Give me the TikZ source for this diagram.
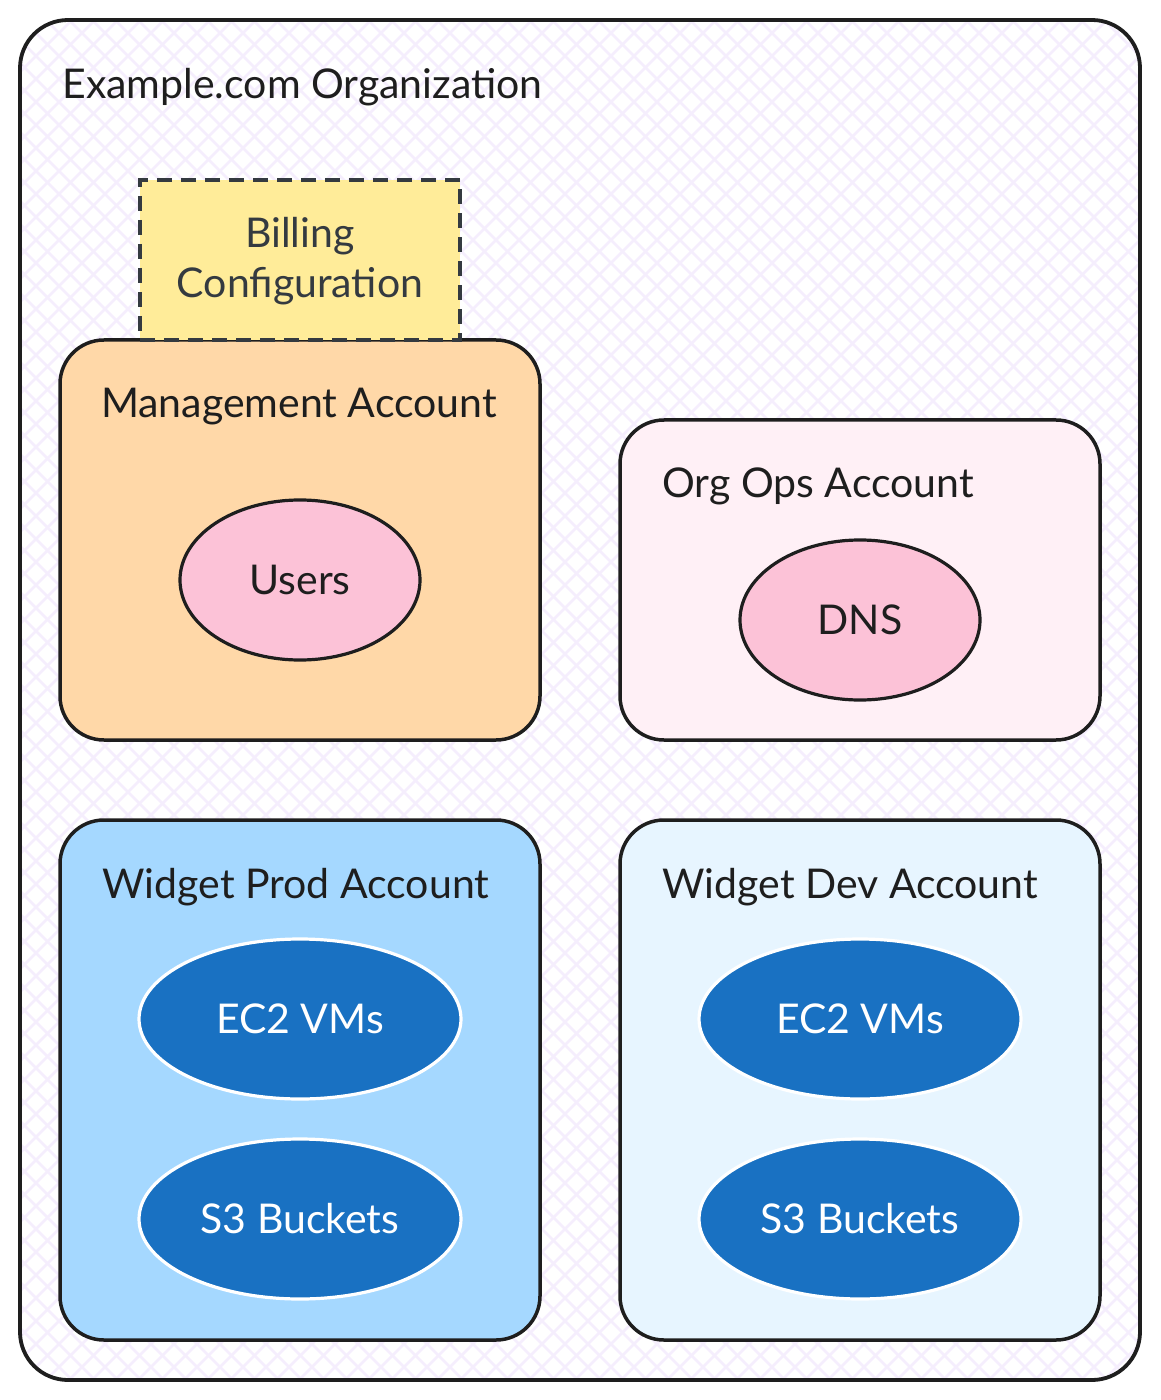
\documentclass[tikz,border=0pt]{standalone}
\usepackage{fontspec}
\setmainfont{Lato}
\usetikzlibrary{shapes.geometric}
\definecolor{ink}{HTML}{1E1E1E}
\definecolor{billink}{HTML}{343A40}
\definecolor{patcol}{HTML}{F5EEFD}
\definecolor{orgfill}{HTML}{FFFFFF}
\definecolor{mgmtfill}{HTML}{FFD8A8}
\definecolor{billfill}{HTML}{FFEC99}
\definecolor{pinkfill}{HTML}{FCC2D7}
\definecolor{opsfill}{HTML}{FFF0F6}
\definecolor{prodfill}{HTML}{A5D8FF}
\definecolor{devfill}{HTML}{E7F5FF}
\definecolor{resfill}{HTML}{1971C2}
\tikzset{
  txt/.style={font=\fontsize{20.5pt}{25pt}\selectfont, text=ink, inner sep=0pt},
  acct/.style={draw=ink, line width=1.75pt, rounded corners=22pt, inner sep=0pt, minimum width=240pt},
  pinkell/.style={ellipse, draw=ink, line width=1.6pt, fill=pinkfill, inner sep=0pt, minimum width=120pt, minimum height=80pt},
  resell/.style={ellipse, draw=white, line width=1.6pt, fill=resfill, inner sep=0pt, minimum width=161pt, minimum height=80pt},
  patline/.style={draw=patcol, line width=1.3pt}
}
\begin{document}
\begin{tikzpicture}[x=0.5pt,y=-0.5pt]
\useasboundingbox (0,0) rectangle (1160,1400);
\fill[white] (0,0) rectangle (1160,1400);
% organization container
\node[draw=none, fill=orgfill, rounded corners=24pt, inner sep=0pt, minimum width=560pt, minimum height=680pt] (org) at (580,700) {};
\begin{scope}
  \clip[rounded corners=24pt] (20,20) rectangle (1140,1380);
  \foreach \c in {-1400,-1377,...,1160} {\draw[patline] (\c,0) -- ++(1400,1400);}
  \foreach \c in {0,23,...,2560} {\draw[patline] (\c,0) -- ++(-1400,1400);}
\end{scope}
\node[draw=ink, line width=1.9pt, rounded corners=24pt, inner sep=0pt, minimum width=560pt, minimum height=680pt] (orgborder) at (580,700) {};
\node[txt, anchor=base west] (orgtitle) at (62,99) {Example.com Organization};

% management account
\node[acct, fill=mgmtfill, minimum height=200pt] (mgmt) at (300,540) {};
\node[txt, anchor=base] (mgmttitle) at (299,418) {Management Account};
\node[pinkell, txt, draw=ink, fill=pinkfill, minimum width=120pt, minimum height=80pt] (users) at (300,580) {Users};

% billing configuration
\node[draw=billink, line width=2.4pt, dash pattern=on 7.5pt off 4.5pt, fill=billfill, inner sep=0pt, minimum width=160pt, minimum height=80pt] (billing) at (300,260) {};
\node[txt, text=billink, anchor=base] (bill1) at (300,248) {Billing};
\node[txt, text=billink, anchor=base] (bill2) at (300,298) {Configuration};

% org ops account
\node[acct, fill=opsfill, minimum height=160pt] (ops) at (860,580) {};
\node[txt, anchor=base west] (opstitle) at (662,498) {Org Ops Account};
\node[pinkell, txt, draw=ink, fill=pinkfill, minimum width=120pt, minimum height=80pt] (dns) at (860,620) {DNS};

% widget prod account
\node[acct, fill=prodfill, minimum height=260pt] (prod) at (300,1080) {};
\node[txt, anchor=base west] (prodtitle) at (102,898) {Widget Prod Account};
\node[resell, txt, text=white, draw=white, fill=resfill, minimum width=161pt, minimum height=80pt] (prodec2) at (300,1019) {EC2 VMs};
\node[resell, txt, text=white, draw=white, fill=resfill, minimum width=161pt, minimum height=80pt] (prods3) at (300,1219) {S3 Buckets};

% widget dev account
\node[acct, fill=devfill, minimum height=260pt] (dev) at (860,1080) {};
\node[txt, anchor=base west] (devtitle) at (662,898) {Widget Dev Account};
\node[resell, txt, text=white, draw=white, fill=resfill, minimum width=161pt, minimum height=80pt] (devec2) at (860,1019) {EC2 VMs};
\node[resell, txt, text=white, draw=white, fill=resfill, minimum width=161pt, minimum height=80pt] (devs3) at (860,1219) {S3 Buckets};
\end{tikzpicture}
\end{document}
